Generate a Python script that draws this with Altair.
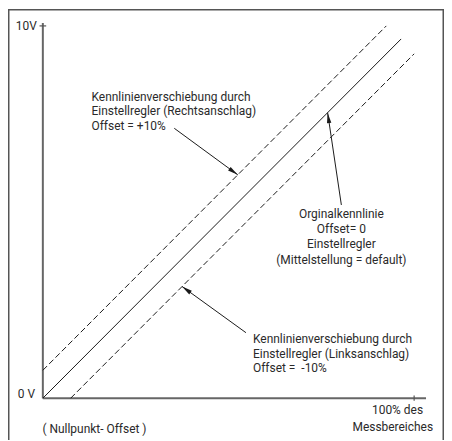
import altair as alt
import pandas as pd
import numpy as np

# ---- characteristic lines (x: % of measuring range, y: output voltage in V)
orig_x = [0.0, 96.5]
orig_y = [0.0, 9.65]
plus_x = [0.0, 92.5]
plus_y = [0.75, 10.0]
minus_x = [7.5, 100.0]
minus_y = [0.0, 9.25]

# ---- axes
axis_x = [0.0, 103.2]
axis_y = [0.0, 10.08]
x_tick_values = [100.0]
y_tick_values = [10.0]
y_tick_labels = ["10V", "0 V"]
y_tick_label_values = [10.0, 0.1]
x_labels = ["( Nullpunkt- Offset )"]
x_labels_right = ["100% des", "Messbereiches"]

# ---- annotation texts
ann_plus = ["Kennlinienverschiebung durch", "Einstellregler (Rechtsanschlag)", "Offset = +10%"]
ann_orig = ["Orginalkennlinie", "Offset= 0", "Einstellregler", "(Mittelstellung = default)"]
ann_minus = ["Kennlinienverschiebung durch", "Einstellregler (Linksanschlag)", "Offset =\u00a0 -10%"]

# ---- arrows: start (x, y) and tip (x, y)
arrow_start_x = [35.4, 80.4, 54.7]
arrow_start_y = [7.25, 5.19, 1.76]
arrow_tip_x = [52.5, 76.7, 37.5]
arrow_tip_y = [6.00, 7.67, 3.00]

W, H = 438, 433
XR = [35, 408]
YR = [391, 17]
xs = alt.Scale(domain=[0, 100], range=XR)
ys = alt.Scale(domain=[0, 10], range=YR)
px_x = (XR[1] - XR[0]) / 100.0
px_y = (YR[0] - YR[1]) / 10.0

FONT = "Roboto"
TXT = "#2a2a2a"
INK = "#1a1a1a"

X = lambda f: alt.X(f, type="quantitative", scale=xs, axis=None)
Y = lambda f: alt.Y(f, type="quantitative", scale=ys, axis=None)

# frame
frame_df = pd.DataFrame({"k": [0]})
frame = alt.layer(
    alt.Chart(frame_df).mark_rule(color="#555555", strokeWidth=1.5).encode(
        x=alt.value(0.75), x2=alt.value(0.75), y=alt.value(0), y2=alt.value(H)),
    alt.Chart(frame_df).mark_rule(color="#555555", strokeWidth=1.5).encode(
        x=alt.value(0), x2=alt.value(W), y=alt.value(0.75), y2=alt.value(0.75)),
    alt.Chart(frame_df).mark_rule(color="#555555", strokeWidth=1.5).encode(
        x=alt.value(W - 0.75), x2=alt.value(W - 0.75), y=alt.value(0), y2=alt.value(H)),
)

# axes
axes_df = pd.DataFrame({
    "x": [axis_x[0], 0.0], "y": [0.0, axis_y[0]],
    "x2": [axis_x[1], 0.0], "y2": [0.0, axis_y[1]],
})
axes = alt.Chart(axes_df).mark_rule(color="#666666", strokeWidth=2).encode(
    x=X("x"), y=Y("y"), x2="x2", y2="y2")

ticks_df = pd.DataFrame({
    "x": x_tick_values + [-0.9], "y": [-0.07] + y_tick_values,
    "x2": x_tick_values + [0.9], "y2": [0.07] + y_tick_values,
})
ticks = alt.Chart(ticks_df).mark_rule(color="#555555", strokeWidth=1.2).encode(
    x=X("x"), y=Y("y"), x2="x2", y2="y2")

ylab_df = pd.DataFrame({"x": [-1.6, -2.1], "y": y_tick_label_values, "t": y_tick_labels})
ylab = alt.Chart(ylab_df).mark_text(align="right", baseline="middle", font=FONT,
                                    fontSize=12, color=TXT).encode(x=X("x"), y=Y("y"), text="t:N")

xlab_df = pd.DataFrame({"x": [13.9], "y": [-0.83], "t": x_labels})
xlab = alt.Chart(xlab_df).mark_text(align="center", baseline="middle", font=FONT,
                                    fontSize=12, color=TXT).encode(x=X("x"), y=Y("y"), text="t:N")
xlabr_df = pd.DataFrame({"x": [102.4, 105.1], "y": [-0.32, -0.78], "t": x_labels_right})
xlabr = alt.Chart(xlabr_df).mark_text(align="right", baseline="middle", font=FONT,
                                      fontSize=12, color=TXT).encode(x=X("x"), y=Y("y"), text="t:N")

# characteristic lines
solid_df = pd.DataFrame({"x": orig_x, "y": orig_y})
solid = alt.Chart(solid_df).mark_line(color=INK, strokeWidth=1.0).encode(x=X("x"), y=Y("y"))
dash_df = pd.DataFrame({
    "x": plus_x + minus_x, "y": plus_y + minus_y,
    "s": ["plus"] * len(plus_x) + ["minus"] * len(minus_x),
})
dashed = alt.Chart(dash_df).mark_line(color=INK, strokeWidth=1.0, strokeDash=[6, 3]).encode(
    x=X("x"), y=Y("y"), detail="s:N")

# annotations
left_rows = []
for i, t in enumerate(ann_plus):
    left_rows.append({"x": 13.1, "y": 8.10 - 0.39 * i, "t": t})
for i, t in enumerate(ann_minus):
    left_rows.append({"x": 56.6, "y": 1.60 - 0.40 * i, "t": t})
ann_left = alt.Chart(pd.DataFrame(left_rows)).mark_text(
    align="left", baseline="middle", font=FONT, fontSize=12, color=TXT).encode(
    x=X("x"), y=Y("y"), text="t:N")
center_rows = [{"x": 80.4, "y": 4.95 - 0.41 * i, "t": t} for i, t in enumerate(ann_orig)]
ann_center = alt.Chart(pd.DataFrame(center_rows)).mark_text(
    align="center", baseline="middle", font=FONT, fontSize=12, color=TXT).encode(
    x=X("x"), y=Y("y"), text="t:N")

# arrows
sx, sy = np.array(arrow_start_x), np.array(arrow_start_y)
tx, ty = np.array(arrow_tip_x), np.array(arrow_tip_y)
ang = np.degrees(np.arctan2((tx - sx) * px_x, (ty - sy) * px_y)) % 360
arrow_df = pd.DataFrame({"x": sx, "y": sy, "x2": tx, "y2": ty, "a": ang})
shafts = alt.Chart(arrow_df).mark_rule(color=INK, strokeWidth=1).encode(
    x=X("x"), y=Y("y"), x2="x2", y2="y2")
heads = alt.Chart(arrow_df).mark_point(
    shape="M0,0L0.42,2L-0.42,2Z", filled=True, size=110, color=INK, opacity=1, strokeWidth=0
).encode(x=X("x2"), y=Y("y2"), angle=alt.Angle("a:Q", scale=None))

chart = alt.layer(
    frame, axes, ticks, ylab, xlab, xlabr, solid, dashed, ann_left, ann_center, shafts, heads
).properties(
    width=W, height=H, padding=0, autosize=alt.AutoSizeParams(type="none")
).configure_view(stroke=None)

chart.save("out.html", embed_options={"renderer": "svg", "actions": False})
